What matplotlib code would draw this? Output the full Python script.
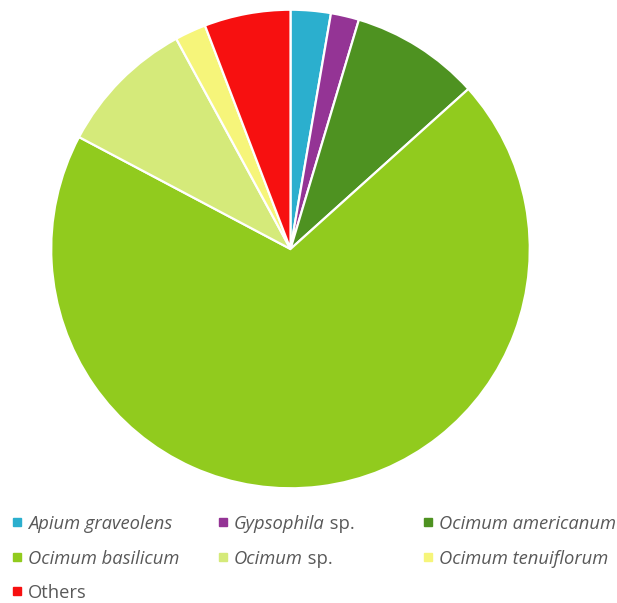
import matplotlib
matplotlib.use("Agg")
import matplotlib.pyplot as plt
from matplotlib.patches import Rectangle

labels_italic = ["Apium graveolens", "Gypsophila", "Ocimum americanum",
                 "Ocimum basilicum", "Ocimum", "Ocimum tenuiflorum", ""]
labels_suffix = ["", " sp.", "", "", " sp.", "", "Others"]
values = [2.7, 1.9, 8.7, 69.2, 9.3, 2.1, 5.8]
colors = ["#2BAFCE", "#943495", "#4E9221", "#91CB1E", "#D5EA7A", "#F6F57A", "#F71010"]

W, H = 617, 603
fig = plt.figure(figsize=(W / 100, H / 100), dpi=100)
cx, cy, r = 290.5, 249, 240
ax = fig.add_axes([(cx - r) / W, (H - cy - r) / H, 2 * r / W, 2 * r / H])
ax.pie(values, colors=colors, startangle=90, counterclock=False,
       wedgeprops=dict(edgecolor="white", linewidth=1.6), radius=1)
ax.set_xlim(-1.003, 1.003)
ax.set_ylim(-1.003, 1.003)
ax.set_aspect("equal")
ax.axis("off")

col_x = [13, 219, 424]
row_y = [522, 557, 591]
fig.canvas.draw()
renderer = fig.canvas.get_renderer()
fs = 13.2
for i, (it, suf) in enumerate(zip(labels_italic, labels_suffix)):
    c = i % 3
    rr = i // 3
    x = col_x[c]
    y = row_y[rr]
    fig.patches.append(Rectangle((x / W, (H - y - 4) / H), 8 / W, 8 / H,
                                 transform=fig.transFigure, color=colors[i]))
    tx = (x + 15) / W
    ty = (H - y) / H
    if it:
        t = fig.text(tx, ty, it, style="italic", family="Open Sans", fontsize=fs,
                     color="#595959", va="center_baseline", ha="left")
        bb = t.get_window_extent(renderer)
        tx = bb.x1 / W
    if suf:
        fig.text(tx, ty, suf, family="Open Sans", fontsize=fs,
                 color="#595959", va="center_baseline", ha="left")

fig.savefig("out.png", dpi=100)
